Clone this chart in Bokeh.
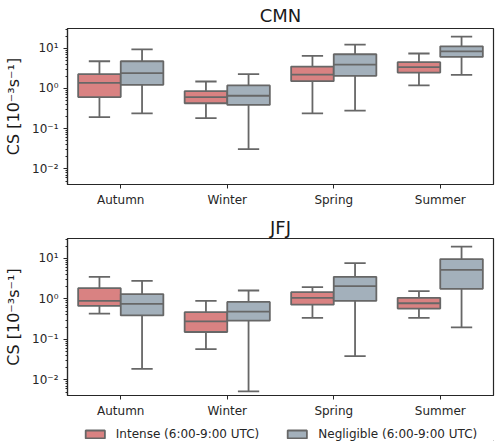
from bokeh.plotting import figure
from bokeh.layouts import column
from bokeh.models import (Range1d, LogTicker, CustomJSTickFormatter, FactorRange,
                          Legend, LegendItem, ColumnDataSource)
from bokeh.transform import dodge
from bokeh.embed import file_html
from bokeh.resources import INLINE

seasons = ["Autumn", "Winter", "Spring", "Summer"]
series = ["Intense (6:00-9:00 UTC)", "Negligible (6:00-9:00 UTC)"]
colors = ["#d98282", "#a3b0bb"]
edge = "#676767"

# CMN: [low whisker, Q1, median, Q3, high whisker] per season
cmn_intense = {
    "low": [0.195, 0.184, 0.24, 1.19],
    "q1": [0.61, 0.43, 1.52, 2.49],
    "med": [1.38, 0.61, 2.22, 3.38],
    "q3": [2.27, 0.86, 3.51, 4.5],
    "high": [4.76, 1.49, 6.46, 7.4],
}
cmn_negligible = {
    "low": [0.24, 0.031, 0.28, 2.18],
    "q1": [1.23, 0.39, 2.06, 6.1],
    "med": [2.4, 0.66, 3.94, 8.4],
    "q3": [4.76, 1.19, 7.1, 11.2],
    "high": [9.4, 2.27, 12.3, 19.5],
}
jfj_intense = {
    "low": [0.43, 0.0575, 0.34, 0.34],
    "q1": [0.67, 0.152, 0.72, 0.575],
    "med": [0.89, 0.279, 1.06, 0.78],
    "q3": [1.84, 0.47, 1.46, 1.06],
    "high": [3.51, 0.89, 1.95, 1.55],
}
jfj_negligible = {
    "low": [0.0187, 0.0052, 0.0386, 0.198],
    "q1": [0.39, 0.29, 0.89, 1.77],
    "med": [0.75, 0.485, 2.06, 5.2],
    "q3": [1.31, 0.84, 3.51, 9.6],
    "high": [2.79, 1.61, 7.66, 19.5],
}

FONT = "DejaVu Sans"

fmt = CustomJSTickFormatter(code="""
const sup = {'-':'\u207b','0':'\u2070','1':'\u00b9','2':'\u00b2','3':'\u00b3','4':'\u2074','5':'\u2075','6':'\u2076','7':'\u2077','8':'\u2078','9':'\u2079'};
const e = Math.round(Math.log10(tick));
return '10' + String(e).split('').map(c => sup[c]).join('');
""")


def make_panel(title, data_list, frame_top, frame_h, bottom_border, title_standoff):
    p = figure(x_range=FactorRange(*seasons, range_padding=0),
               y_axis_type="log", y_range=Range1d(0.0041, 31),
               frame_width=426, frame_height=frame_h,
               min_border_left=67, min_border_right=7,
               min_border_top=frame_top, min_border_bottom=bottom_border,
               output_backend="svg", toolbar_location=None,
               background_fill_color="white", border_fill_color="white")
    p.title.text = title
    p.title.align = "center"
    p.title.text_font = FONT
    p.title.text_font_size = "18px"
    p.title.text_font_style = "normal"
    p.title.text_color = "#1a1a1a"
    p.title.standoff = title_standoff
    p.xgrid.visible = False
    p.ygrid.visible = False
    p.outline_line_color = "#262626"
    p.outline_line_width = 1.2
    p.outline_line_alpha = 1

    p.yaxis.ticker = LogTicker(num_minor_ticks=10)
    p.yaxis.formatter = fmt
    p.yaxis.axis_label = "CS [10\u207b\u00b3s\u207b\u00b9]"
    p.yaxis.axis_label_text_font = FONT
    p.yaxis.axis_label_text_font_size = "16px"
    p.yaxis.axis_label_text_font_style = "normal"
    p.yaxis.axis_label_text_color = "#1a1a1a"
    p.yaxis.axis_label_standoff = 6
    for ax in (p.xaxis[0], p.yaxis[0]):
        ax.major_label_text_font = FONT
        ax.major_label_text_font_size = "12px"
        ax.major_label_text_color = "#262626"
        ax.axis_line_color = "#262626"
        ax.axis_line_width = 1.2
        ax.major_tick_line_color = "#262626"
        ax.minor_tick_line_color = "#262626"
        ax.major_tick_out = 4
        ax.major_tick_in = 0
        ax.minor_tick_out = 2
        ax.minor_tick_in = 0
    p.xaxis.major_label_standoff = 4

    offsets = [-0.2, 0.2]
    for i, d in enumerate(data_list):
        src = ColumnDataSource(dict(
            x=list(seasons),
            low=d["low"], q1=d["q1"], med=d["med"], q3=d["q3"], high=d["high"]))
        xd = dodge("x", offsets[i], range=p.x_range)
        p.segment(x0=xd, x1=xd, y0="q3", y1="high", source=src,
                  line_color=edge, line_width=1.8)
        p.segment(x0=xd, x1=xd, y0="low", y1="q1", source=src,
                  line_color=edge, line_width=1.8)
        xl = dodge("x", offsets[i] - 0.1, range=p.x_range)
        xr = dodge("x", offsets[i] + 0.1, range=p.x_range)
        p.segment(x0=xl, x1=xr, y0="high", y1="high", source=src,
                  line_color=edge, line_width=1.8)
        p.segment(x0=xl, x1=xr, y0="low", y1="low", source=src,
                  line_color=edge, line_width=1.8)
        p.vbar(x=xd, width=0.4, bottom="q1", top="q3", source=src,
               fill_color=colors[i], line_color=edge, line_width=1.8)
        xl2 = dodge("x", offsets[i] - 0.2, range=p.x_range)
        xr2 = dodge("x", offsets[i] + 0.2, range=p.x_range)
        p.segment(x0=xl2, x1=xr2, y0="med", y1="med", source=src,
                  line_color=edge, line_width=1.8)
    return p


p1 = make_panel("CMN", [cmn_intense, cmn_negligible], 27, 156, 29, 5)
p2 = make_panel("JFJ", [jfj_intense, jfj_negligible], 24, 157, 24, 2)

# legend strip (proxy glyphs lie outside its visible range)
p3 = figure(frame_width=426, frame_height=14,
            min_border_left=67, min_border_right=7,
            min_border_top=7, min_border_bottom=0,
            x_axis_location=None, y_axis_location=None,
            output_backend="svg", toolbar_location=None,
            background_fill_color="white", border_fill_color="white",
            x_range=Range1d(0, 1), y_range=Range1d(10, 11))
p3.outline_line_color = None
p3.xgrid.visible = False
p3.ygrid.visible = False
leg_r = [p3.vbar(x=[50], top=[-50], bottom=[-60], width=0.4, fill_color=colors[i],
                 line_color=edge, line_width=1.8) for i in range(2)]
legend = Legend(items=[LegendItem(label=series[i], renderers=[leg_r[i]])
                       for i in range(2)],
                orientation="horizontal", location="center",
                border_line_alpha=0, background_fill_alpha=0,
                label_text_font=FONT, label_text_font_size="12px",
                label_text_color="#262626",
                glyph_width=24, glyph_height=10, spacing=26,
                label_standoff=9, padding=0, margin=0)
p3.add_layout(legend, "center")

layout = column(p1, p2, p3, spacing=0)
open("out.html", "w").write(file_html(layout, INLINE))
